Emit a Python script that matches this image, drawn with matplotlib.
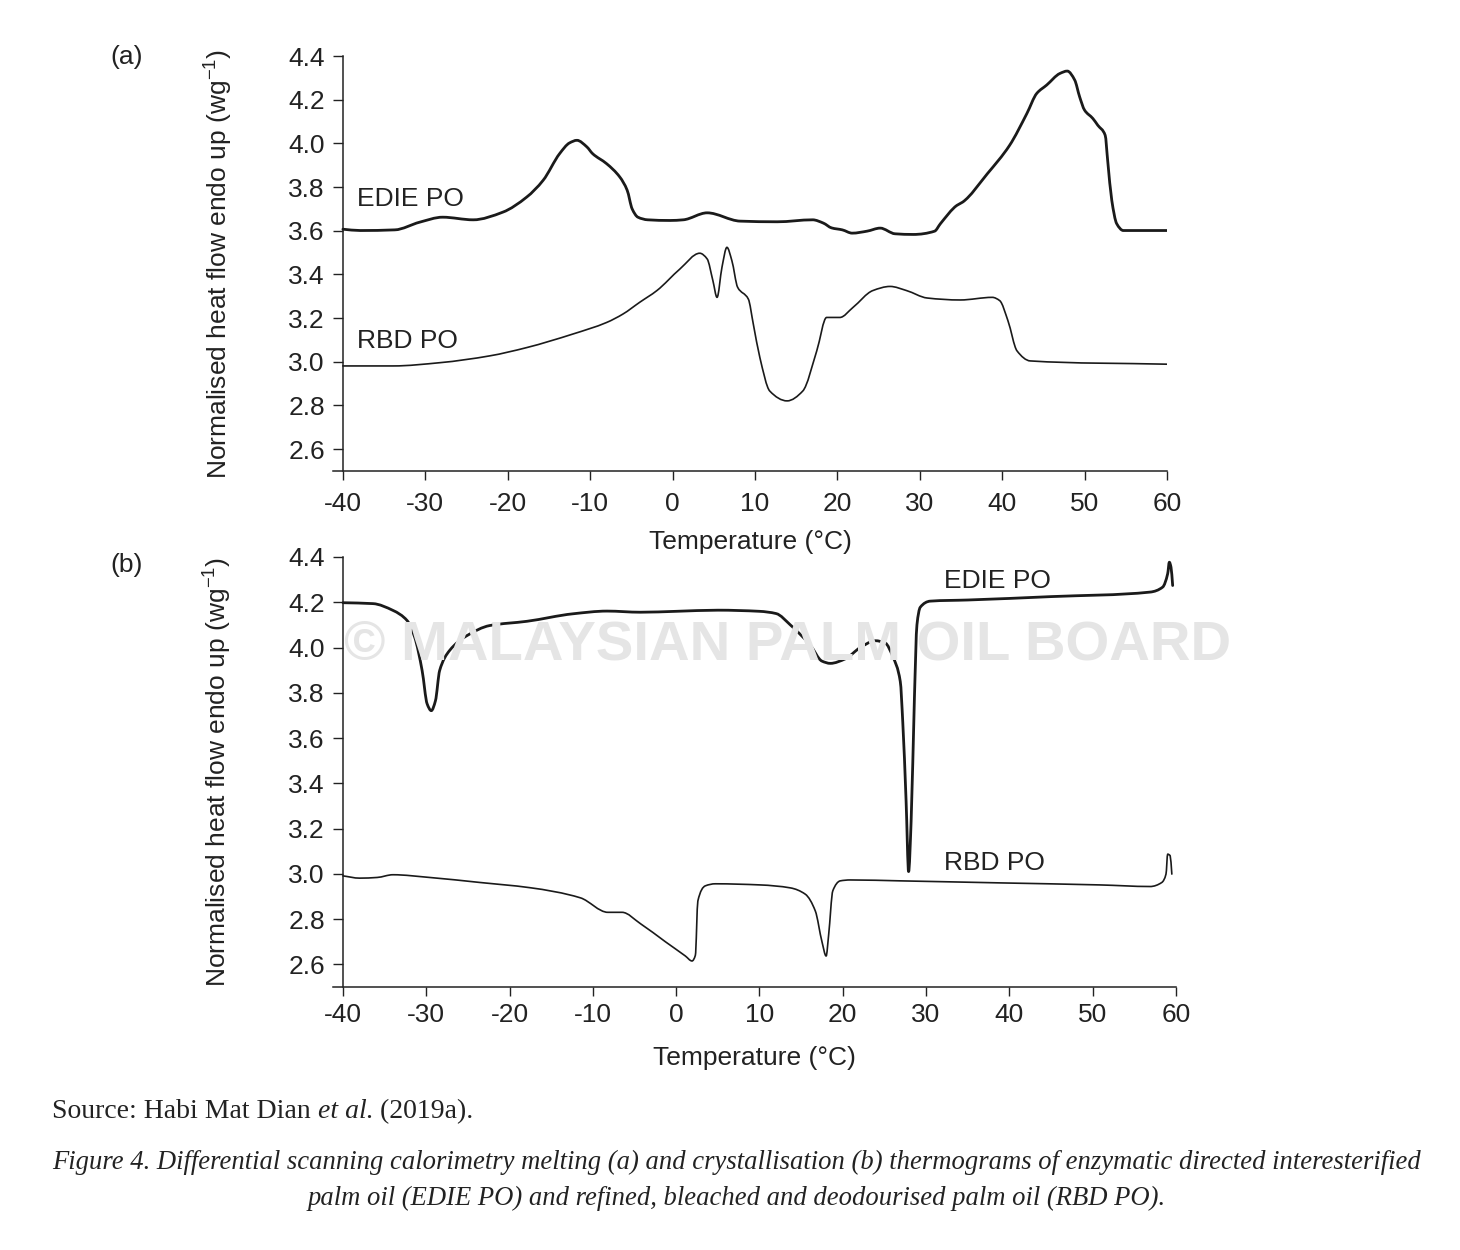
import matplotlib
matplotlib.use("Agg")
import matplotlib.pyplot as plt
from matplotlib.path import Path
from matplotlib.patches import PathPatch

plt.rcParams['font.family'] = ['Liberation Sans', 'DejaVu Sans']
plt.rcParams['axes.unicode_minus'] = False

# ---------------- data ----------------
# Panel (a): melting
a_edie_T = [-40, -37.9, -33.7, -30.7, -27.9, -24.2, -20.6, -17.7, -15.7, -13.7, -12.5, -11.6, -10.4,
            -9.7, -8.0, -6.4, -5.5, -4.9, -4.2, -3.0, -0.3, 1.3, 4.2, 8.2, 12.7, 17.0, 18.3, 19.3,
            20.6, 21.8, 23.6, 25.2, 27.0, 29.2, 31.8, 32.5, 34.5, 35.2, 38.2, 40.9, 43.0, 44.2,
            45.4, 47.0, 47.9, 48.8, 49.4, 50.0, 51.0, 51.6, 52.5, 52.8, 53.3, 53.9, 54.7, 60]
a_edie_H = [3.607, 3.601, 3.604, 3.639, 3.662, 3.650, 3.685, 3.754, 3.831, 3.953, 4.002, 4.014, 3.984,
            3.953, 3.907, 3.846, 3.785, 3.700, 3.662, 3.650, 3.647, 3.650, 3.682, 3.644, 3.641, 3.650,
            3.635, 3.613, 3.604, 3.589, 3.598, 3.612, 3.586, 3.583, 3.598, 3.632, 3.716, 3.731, 3.861,
            3.991, 4.137, 4.229, 4.267, 4.320, 4.331, 4.290, 4.213, 4.152, 4.114, 4.083, 4.037, 3.922,
            3.739, 3.632, 3.601, 3.601]

a_rbd_T = [-40, -33.9, -28.2, -22.2, -17.7, -12.1, -8.0, -6.0, -4.0, -1.9, 0.9, 3.3, 4.2, 4.9, 5.4,
           6.0, 6.6, 7.2, 7.9, 9.2, 9.8, 10.6, 11.8, 13.9, 15.8, 17.5, 18.7, 20.3, 21.9, 24.3, 26.4,
           28.4, 30.9, 34.9, 38.8, 39.7, 40.7, 41.8, 43.4, 60]
a_rbd_H = [2.981, 2.981, 2.996, 3.027, 3.065, 3.127, 3.180, 3.219, 3.272, 3.326, 3.425, 3.497, 3.471,
           3.371, 3.295, 3.433, 3.524, 3.463, 3.341, 3.287, 3.173, 3.019, 2.866, 2.821, 2.866, 3.050,
           3.203, 3.203, 3.249, 3.326, 3.345, 3.326, 3.292, 3.283, 3.295, 3.280, 3.188, 3.050, 3.004,
           2.989]

# Panel (b): crystallisation
b_edie_T = [-40, -36.4, -34.0, -32.3, -31.4, -30.5, -29.9, -29.4, -28.9, -28.4, -27.2, -25.1, -22.4,
            -17.9, -12.4, -8.3, -4.3, 0, 5, 10, 12, 13.7, 16.1, 17.5, 18.5, 20.3, 22.1, 23.9, 25.1,
            26.0, 26.9, 27.2, 27.6, 27.9, 28.2, 28.6, 28.9, 29.3, 30.5, 35, 45, 56.9, 58.4, 59.0,
            59.2, 59.4, 59.6]
b_edie_H = [4.198, 4.194, 4.164, 4.119, 4.046, 3.898, 3.751, 3.721, 3.765, 3.898, 3.987, 4.053, 4.097,
            4.116, 4.149, 4.161, 4.156, 4.160, 4.165, 4.160, 4.150, 4.100, 4.010, 3.940, 3.930, 3.950,
            4.000, 4.030, 4.020, 3.960, 3.850, 3.670, 3.320, 3.010, 3.230, 3.780, 4.100, 4.178, 4.205,
            4.210, 4.225, 4.245, 4.267, 4.326, 4.377, 4.355, 4.274]

b_rbd_T = [-40, -38.0, -35.9, -34.0, -29.6, -23.6, -17.6, -11.5, -8.2, -6.5, -4.3, -1.3, 1.1, 1.9,
           2.3, 2.6, 3.5, 4.7, 10.1, 13.7, 15.5, 16.7, 17.5, 18.0, 18.3, 18.8, 19.7, 20.9, 26.9,
           38.9, 50.9, 56.9, 58.3, 58.8, 59.0, 59.3, 59.5]
b_rbd_H = [2.991, 2.981, 2.984, 2.996, 2.984, 2.962, 2.939, 2.894, 2.830, 2.830, 2.780, 2.700, 2.637,
           2.615, 2.640, 2.880, 2.947, 2.956, 2.951, 2.938, 2.910, 2.836, 2.700, 2.637, 2.730, 2.925,
           2.969, 2.973, 2.969, 2.960, 2.951, 2.944, 2.962, 2.999, 3.087, 3.080, 2.999]

x_ticks = [-40, -30, -20, -10, 0, 10, 20, 30, 40, 50, 60]
y_ticks = [2.6, 2.8, 3.0, 3.2, 3.4, 3.6, 3.8, 4.0, 4.2, 4.4]


def smooth_trace(ax, xs, ys, lw):
    """Draw a smooth curve passing through every read point (monotone cubic Bezier segments)."""
    n = len(xs)
    h = [xs[i + 1] - xs[i] for i in range(n - 1)]
    d = [(ys[i + 1] - ys[i]) / h[i] for i in range(n - 1)]
    m = [0.0] * n
    m[0], m[-1] = d[0], d[-1]
    for i in range(1, n - 1):
        if d[i - 1] * d[i] <= 0:
            m[i] = 0.0
        else:
            h0, h1 = h[i - 1], h[i]
            m[i] = 3 * (h0 + h1) / ((2 * h1 + h0) / d[i - 1] + (h1 + 2 * h0) / d[i])
    verts = [(xs[0], ys[0])]
    codes = [Path.MOVETO]
    for i in range(n - 1):
        t = h[i] / 3.0
        verts += [(xs[i] + t, ys[i] + m[i] * t), (xs[i + 1] - t, ys[i + 1] - m[i + 1] * t),
                  (xs[i + 1], ys[i + 1])]
        codes += [Path.CURVE4] * 3
    ax.add_patch(PathPatch(Path(verts, codes), fill=False, edgecolor='#1a1a1a', lw=lw,
                           joinstyle='round', capstyle='round', zorder=3))


# ---------------- figure ----------------
W, H = 1460, 1250
fig = plt.figure(figsize=(W / 100, H / 100), dpi=100)


def px_axes(left, right, top, bottom):
    return fig.add_axes([left / W, 1 - bottom / H, (right - left) / W, (bottom - top) / H])


ax_a = px_axes(333, 1167, 56, 471)
ax_b = px_axes(333, 1176, 557, 987)

FS = 19
for ax, xpad, lpad in ((ax_a, 8.5, 10.5), (ax_b, 5, 14)):
    ax.set_xlim(-41.2, 60)
    ax.set_ylim(2.5, 4.4)
    ax.spines['top'].set_visible(False)
    ax.spines['right'].set_visible(False)
    ax.spines['left'].set_position(('data', -40))
    for s in ('left', 'bottom'):
        ax.spines[s].set_linewidth(1.1)
        ax.spines[s].set_color('#222222')
    ax.set_xticks(x_ticks)
    ax.set_yticks(y_ticks)
    ax.set_yticklabels([f"{v:.1f}" for v in y_ticks])
    ax.tick_params(axis='x', length=6.3, width=1.0, pad=xpad, labelsize=FS, colors='#222222')
    ax.tick_params(axis='y', length=7, width=1.0, pad=6, labelsize=FS, colors='#222222')
    ax.set_xlabel('Temperature (°C)', fontsize=FS, color='#222222', labelpad=lpad)
    ax.set_ylabel('Normalised heat flow endo up (wg$^{\\mathregular{-1}}$)', fontsize=19,
                  color='#222222')
    ax.yaxis.set_label_coords((234 - 333) / (1167 - 333), 0.5)
    ax.patch.set_alpha(0)

# watermark (behind panel b curves)
fig.text(788 / W, 1 - 645 / H, '© MALAYSIAN PALM OIL BOARD', fontsize=40.5, fontweight='bold',
         color='#e5e5e5', ha='center', va='center', zorder=0)

smooth_trace(ax_a, a_edie_T, a_edie_H, 2.0)
smooth_trace(ax_a, a_rbd_T, a_rbd_H, 1.2)
smooth_trace(ax_b, b_edie_T, b_edie_H, 2.0)
smooth_trace(ax_b, b_rbd_T, b_rbd_H, 1.2)


def ftext(x, y, s, **kw):
    return fig.text(x / W, 1 - y / H, s, **kw)


ftext(357, 199, 'EDIE PO', fontsize=FS, va='center', ha='left', color='#222222')
ftext(357, 341, 'RBD PO', fontsize=FS, va='center', ha='left', color='#222222')
ftext(944, 581, 'EDIE PO', fontsize=FS, va='center', ha='left', color='#222222')
ftext(944, 863, 'RBD PO', fontsize=FS, va='center', ha='left', color='#222222')
ftext(127, 57, '(a)', fontsize=FS, va='center', ha='center', color='#222222')
ftext(127, 565, '(b)', fontsize=FS, va='center', ha='center', color='#222222')

# source line with italic part
serif = ['Liberation Serif', 'DejaVu Serif']
renderer = fig.canvas.get_renderer()
x0 = 52
parts = [('Source: Habi Mat Dian ', 'normal'), ('et al', 'italic'), ('. (2019a).', 'normal')]
for s, st in parts:
    t = ftext(x0, 1112, s, fontsize=20, family=serif, style=st, va='center', ha='left',
              color='#222222')
    bb = t.get_window_extent(renderer)
    x0 += bb.width

ftext(737, 1162, 'Figure 4. Differential scanning calorimetry melting (a) and crystallisation (b) '
      'thermograms of enzymatic directed interesterified', fontsize=19.2, family=serif,
      style='italic', ha='center', va='center', color='#222222')
ftext(737, 1198, 'palm oil (EDIE PO) and refined, bleached and deodourised palm oil (RBD PO).',
      fontsize=19.2, family=serif, style='italic', ha='center', va='center', color='#222222')

fig.savefig('out.png', dpi=100, facecolor='white')
